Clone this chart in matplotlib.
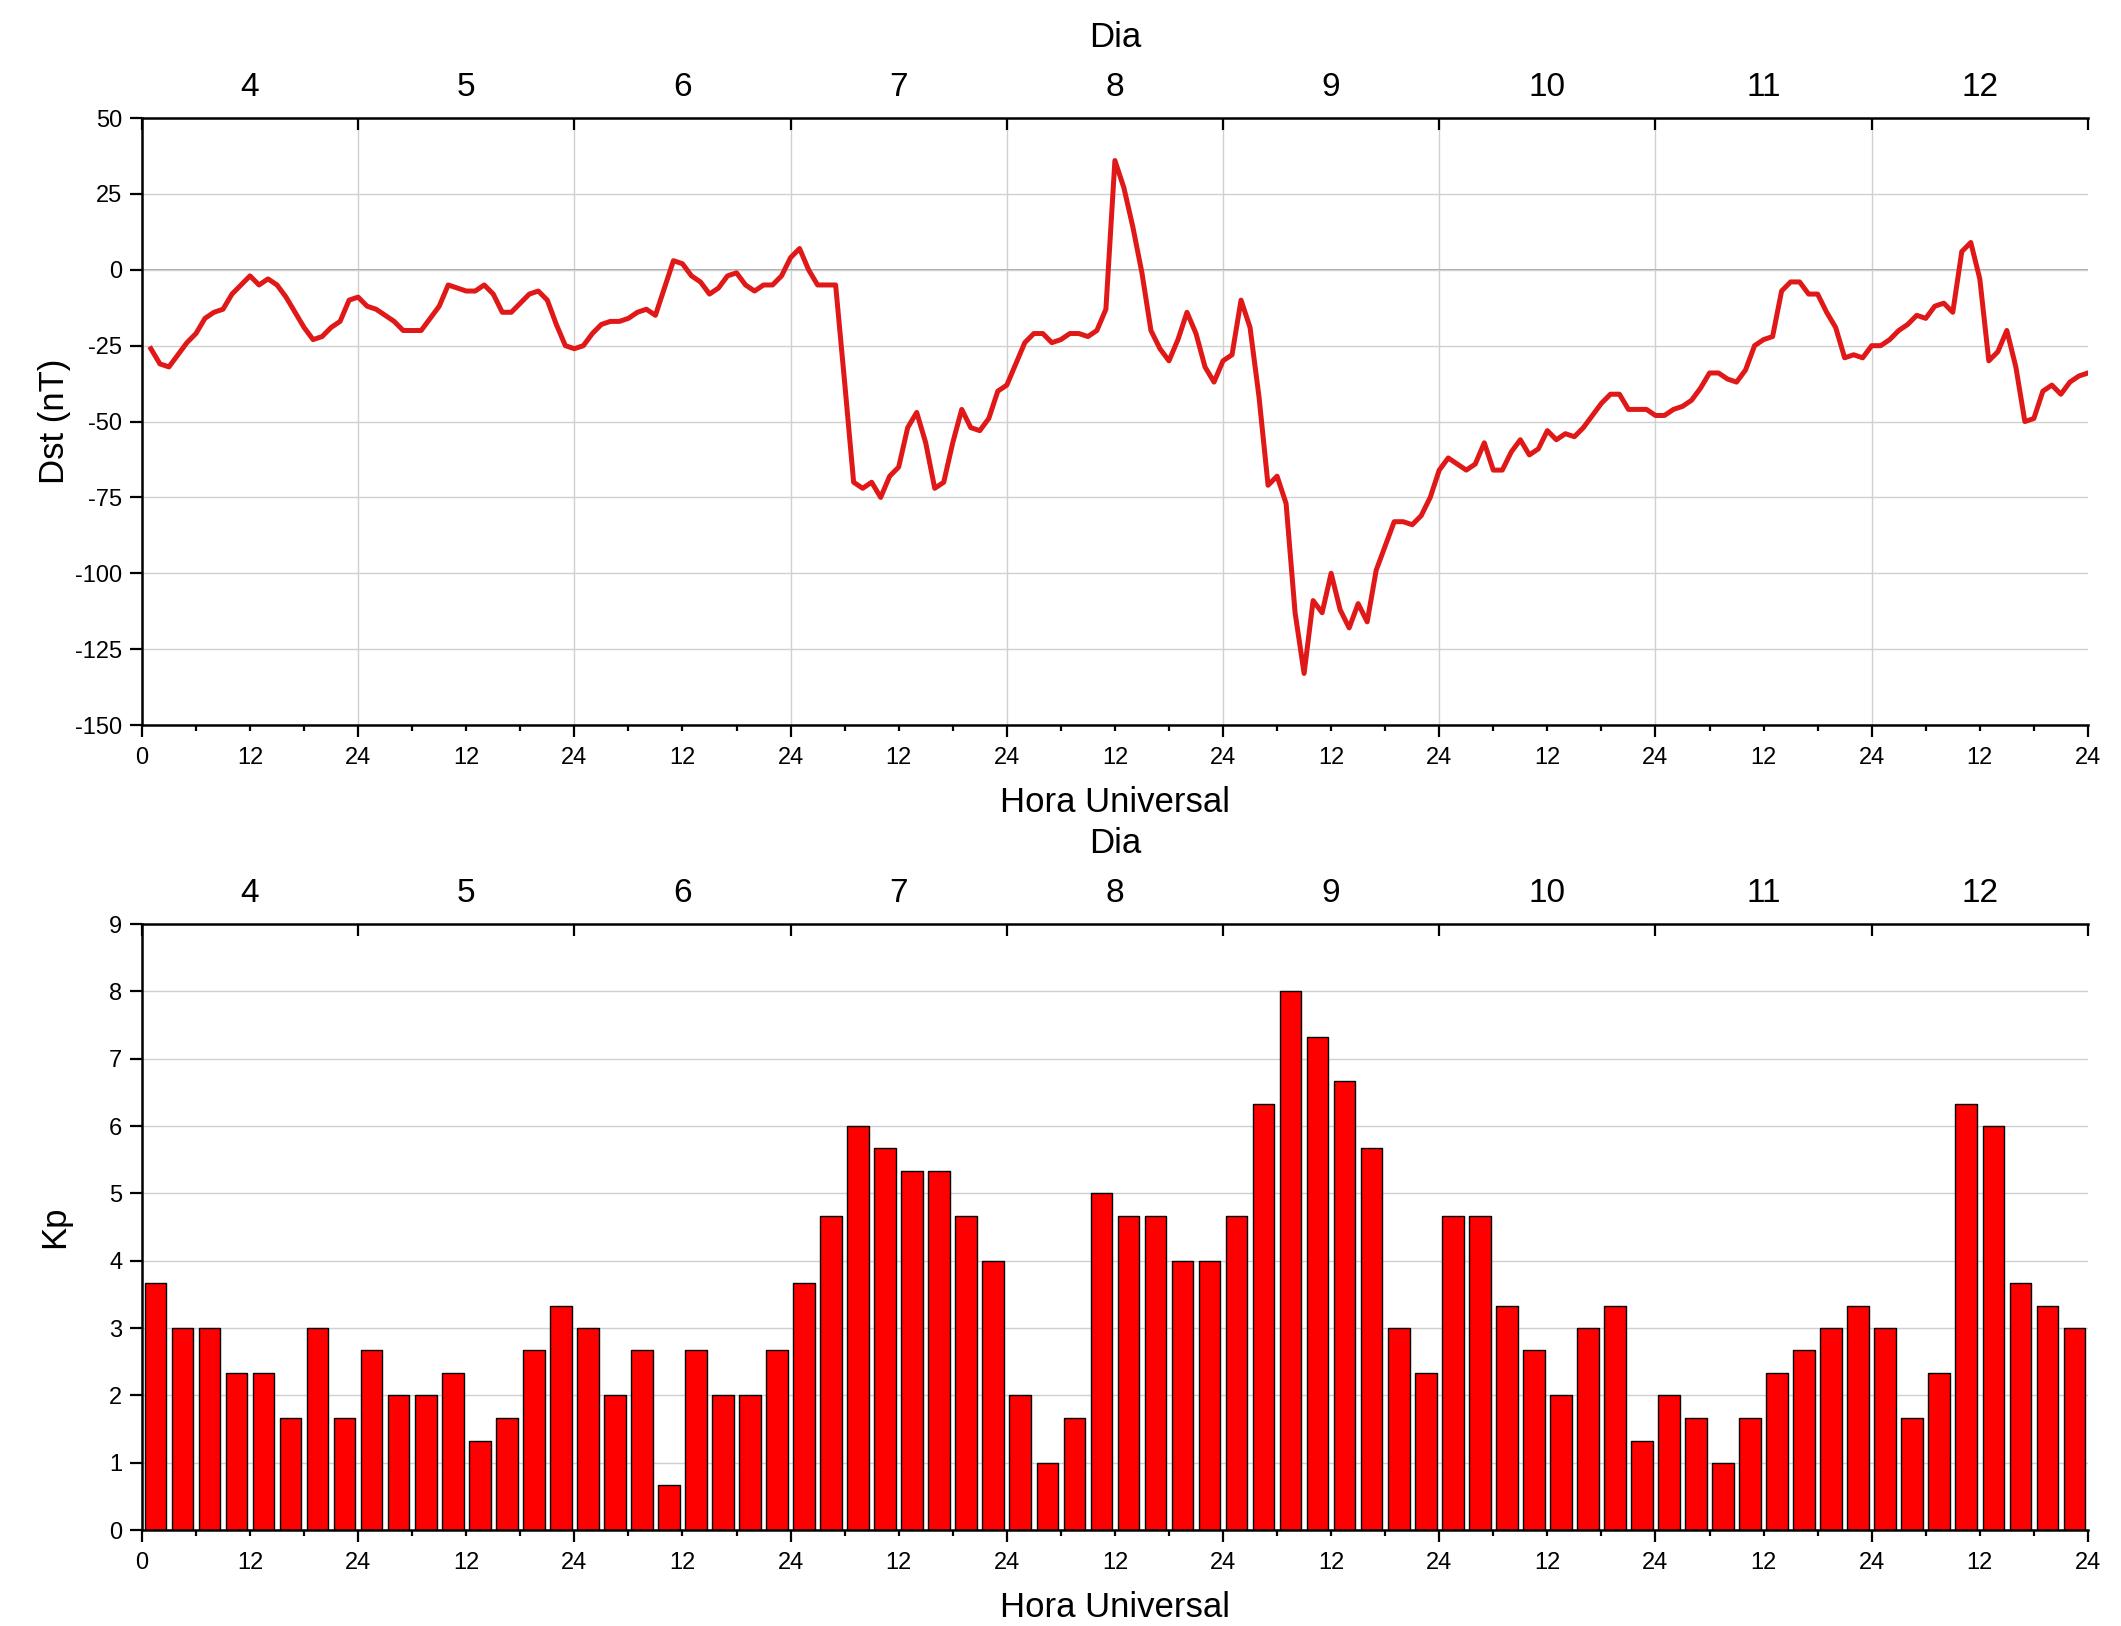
import numpy as np
import matplotlib.pyplot as plt
from matplotlib.ticker import FixedLocator, FuncFormatter, NullFormatter

plt.rcParams['font.family'] = ['Liberation Sans', 'DejaVu Sans']
plt.rcParams['axes.unicode_minus'] = False

# dias do periodo (eixo superior)
dias = [4, 5, 6, 7, 8, 9, 10, 11, 12]

# Dst horario (nT), horas 1..216
dst = [-26, -31, -32, -28, -24, -21, -16, -14, -13, -8,
       -5, -2, -5, -3, -5, -9, -14, -19, -23, -22,
       -19, -17, -10, -9, -12, -13, -15, -17, -20, -20,
       -20, -16, -12, -5, -6, -7, -7, -5, -8, -14,
       -14, -11, -8, -7, -10, -18, -25, -26, -25, -21,
       -18, -17, -17, -16, -14, -13, -15, -6, 3, 2,
       -2, -4, -8, -6, -2, -1, -5, -7, -5, -5,
       -2, 4, 7, 0, -5, -5, -5, -37, -70, -72,
       -70, -75, -68, -65, -52, -47, -57, -72, -70, -57,
       -46, -52, -53, -49, -40, -38, -31, -24, -21, -21,
       -24, -23, -21, -21, -22, -20, -13, 36, 27, 14,
       -1, -20, -26, -30, -23, -14, -21, -32, -37, -30,
       -28, -10, -19, -42, -71, -68, -77, -113, -133, -109,
       -113, -100, -112, -118, -110, -116, -99, -91, -83, -83,
       -84, -81, -75, -66, -62, -64, -66, -64, -57, -66,
       -66, -60, -56, -61, -59, -53, -56, -54, -55, -52,
       -48, -44, -41, -41, -46, -46, -46, -48, -48, -46,
       -45, -43, -39, -34, -34, -36, -37, -33, -25, -23,
       -22, -7, -4, -4, -8, -8, -14, -19, -29, -28,
       -29, -25, -25, -23, -20, -18, -15, -16, -12, -11,
       -14, 6, 9, -3, -30, -27, -20, -32, -50, -49,
       -40, -38, -41, -37, -35, -34]
horas = np.arange(1, len(dst) + 1)

# Kp trihorario
kp = [3.67, 3, 3, 2.33, 2.33, 1.67, 3, 1.67,
      2.67, 2, 2, 2.33, 1.33, 1.67, 2.67, 3.33,
      3, 2, 2.67, 0.67, 2.67, 2, 2, 2.67,
      3.67, 4.67, 6, 5.67, 5.33, 5.33, 4.67, 4,
      2, 1, 1.67, 5, 4.67, 4.67, 4, 4,
      4.67, 6.33, 8, 7.33, 6.67, 5.67, 3, 2.33,
      4.67, 4.67, 3.33, 2.67, 2, 3, 3.33, 1.33,
      2, 1.67, 1, 1.67, 2.33, 2.67, 3, 3.33,
      3, 1.67, 2.33, 6.33, 6, 3.67, 3.33, 3]
kp_horas = np.arange(len(kp)) * 3 + 1.5

fig = plt.figure(figsize=(21.21, 16.26), dpi=100)
ax1 = fig.add_axes([0.0669, 0.5541, 0.9175, 0.3733])
ax2 = fig.add_axes([0.0669, 0.0590, 0.9175, 0.3727])


def estilo(ax, ylim, yticks, ylabel):
    ax.set_xlim(0, 216)
    ax.set_ylim(*ylim)
    ax.set_yticks(yticks)
    ax.xaxis.set_major_locator(FixedLocator(range(0, 217, 24)))
    ax.xaxis.set_minor_locator(FixedLocator(range(6, 217, 6)))
    ax.xaxis.set_major_formatter(FuncFormatter(lambda x, p: '0' if x == 0 else '24'))
    ax.xaxis.set_minor_formatter(FuncFormatter(lambda x, p: '12' if x % 24 == 12 else ''))
    ax.tick_params(axis='x', which='major', direction='out', length=8.6, width=1.6, pad=7.5, labelsize=17)
    ax.tick_params(axis='x', which='minor', direction='out', length=4.3, width=1.6, pad=11.8, labelsize=17)
    ax.tick_params(axis='y', direction='out', length=9, width=1.6, pad=5, labelsize=17)
    for s in ['top', 'right']:
        ax.spines[s].set_visible(False)
    for s in ['left', 'bottom']:
        ax.spines[s].set_linewidth(1.8)
    ax.set_xlabel('Hora Universal', fontsize=25, va='center')
    ax.xaxis.set_label_coords(0.5, -0.127)
    ax.set_ylabel(ylabel, fontsize=25, va='center')
    ax.yaxis.set_label_coords(-0.045, 0.5)
    ax.set_axisbelow(True)

    top = ax.twiny()
    top.set_xlim(0, 216)
    top.xaxis.set_major_locator(FixedLocator(range(0, 217, 24)))
    top.xaxis.set_major_formatter(NullFormatter())
    top.xaxis.set_minor_locator(FixedLocator(range(12, 217, 24)))
    top.xaxis.set_minor_formatter(FuncFormatter(lambda x, p: str(dias[int(x // 24)])))
    top.tick_params(which='major', direction='in', length=8.6, width=1.6)
    top.tick_params(which='minor', length=0, pad=11, labelsize=24)
    for s in ['left', 'right', 'bottom']:
        top.spines[s].set_visible(False)
    top.spines['top'].set_linewidth(1.8)
    top.set_xlabel('Dia', fontsize=25, va='center')
    top.xaxis.set_label_coords(0.5, 1.133)
    return top


estilo(ax1, (-150, 50), range(-150, 51, 25), 'Dst (nT)')
ax1.grid(axis='y', color='#d0d0d0', lw=1.0)
for d in range(24, 216, 24):
    ax1.axvline(d, color='#d0d0d0', lw=1.0, zorder=0)
ax1.axhline(0, color='#a8a8a8', lw=1.4, zorder=0.5)
ax1.plot(horas, dst, color='#e01818', lw=3.6, zorder=3)

estilo(ax2, (0, 9), range(0, 10), 'Kp')
ax2.grid(axis='y', color='#d0d0d0', lw=1.0)
ax2.bar(kp_horas, kp, width=2.4, color='#ff0000', edgecolor='black', linewidth=1.0, zorder=2)

fig.savefig('out.png', dpi=100)
